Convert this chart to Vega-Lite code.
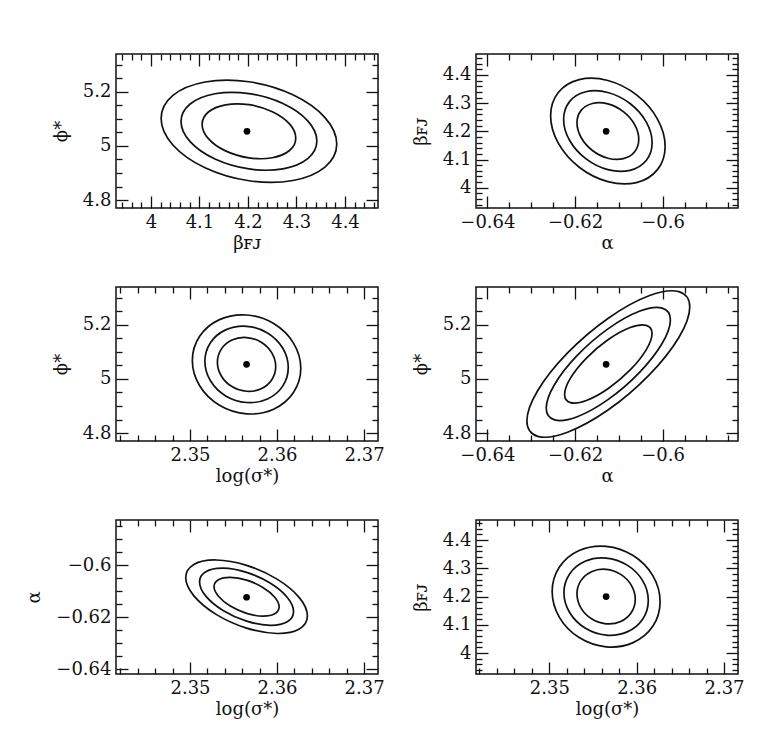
{
  "$schema": "https://vega.github.io/schema/vega-lite/v6.json",
  "background": "white",
  "padding": {"left": 25, "top": 48, "right": 0, "bottom": 0},
  "columns": 2,
  "bounds": "flush",
  "spacing": {"row": 79, "column": 98},
  "datasets": {
    "centers": [
      {"panel": 1, "x": 4.198, "y": 5.054},
      {"panel": 2, "x": -0.6129, "y": 4.2},
      {"panel": 3, "x": 2.3565, "y": 5.054},
      {"panel": 4, "x": -0.6129, "y": 5.054},
      {"panel": 5, "x": 2.3565, "y": -0.6123},
      {"panel": 6, "x": 2.3565, "y": 4.2}
    ],
    "contours": [
      {"panel":1,"level":1,"k":0,"x":4.2985,"y":5.0287},{"panel":1,"level":1,"k":1,"x":4.2856,"y":4.983},{"panel":1,"level":1,"k":2,"x":4.2503,"y":4.9564},{"panel":1,"level":1,"k":3,"x":4.202,"y":4.9559},{"panel":1,"level":1,"k":4,"x":4.1537,"y":4.9817},{"panel":1,"level":1,"k":5,"x":4.1184,"y":5.0269},{"panel":1,"level":1,"k":6,"x":4.1055,"y":5.0793},{"panel":1,"level":1,"k":7,"x":4.1184,"y":5.125},{"panel":1,"level":1,"k":8,"x":4.1537,"y":5.1516},{"panel":1,"level":1,"k":9,"x":4.202,"y":5.1521},{"panel":1,"level":1,"k":10,"x":4.2503,"y":5.1263},{"panel":1,"level":1,"k":11,"x":4.2856,"y":5.0811},
      {"panel":1,"level":2,"k":0,"x":4.342,"y":5.0181},{"panel":1,"level":2,"k":1,"x":4.3232,"y":4.9534},{"panel":1,"level":2,"k":2,"x":4.272,"y":4.9156},{"panel":1,"level":2,"k":3,"x":4.202,"y":4.915},{"panel":1,"level":2,"k":4,"x":4.132,"y":4.9515},{"panel":1,"level":2,"k":5,"x":4.0808,"y":5.0156},{"panel":1,"level":2,"k":6,"x":4.062,"y":5.0899},{"panel":1,"level":2,"k":7,"x":4.0808,"y":5.1546},{"panel":1,"level":2,"k":8,"x":4.132,"y":5.1924},{"panel":1,"level":2,"k":9,"x":4.202,"y":5.193},{"panel":1,"level":2,"k":10,"x":4.272,"y":5.1565},{"panel":1,"level":2,"k":11,"x":4.3232,"y":5.0924},
      {"panel":1,"level":3,"k":0,"x":4.383,"y":5.0068},{"panel":1,"level":3,"k":1,"x":4.3587,"y":4.9219},{"panel":1,"level":3,"k":2,"x":4.2925,"y":4.8723},{"panel":1,"level":3,"k":3,"x":4.202,"y":4.8714},{"panel":1,"level":3,"k":4,"x":4.1115,"y":4.9194},{"panel":1,"level":3,"k":5,"x":4.0453,"y":5.0035},{"panel":1,"level":3,"k":6,"x":4.021,"y":5.1012},{"panel":1,"level":3,"k":7,"x":4.0453,"y":5.1861},{"panel":1,"level":3,"k":8,"x":4.1115,"y":5.2357},{"panel":1,"level":3,"k":9,"x":4.202,"y":5.2366},{"panel":1,"level":3,"k":10,"x":4.2925,"y":5.1886},{"panel":1,"level":3,"k":11,"x":4.3587,"y":5.1045},
      {"panel":2,"level":1,"k":0,"x":-0.60545,"y":4.1718},{"panel":2,"level":1,"k":1,"x":-0.60639,"y":4.1276},{"panel":2,"level":1,"k":2,"x":-0.60897,"y":4.103},{"panel":2,"level":1,"k":3,"x":-0.6125,"y":4.1047},{"panel":2,"level":1,"k":4,"x":-0.61603,"y":4.1322},{"panel":2,"level":1,"k":5,"x":-0.61861,"y":4.1781},{"panel":2,"level":1,"k":6,"x":-0.61955,"y":4.2302},{"panel":2,"level":1,"k":7,"x":-0.61861,"y":4.2744},{"panel":2,"level":1,"k":8,"x":-0.61603,"y":4.299},{"panel":2,"level":1,"k":9,"x":-0.6125,"y":4.2973},{"panel":2,"level":1,"k":10,"x":-0.60897,"y":4.2698},{"panel":2,"level":1,"k":11,"x":-0.60639,"y":4.2239},
      {"panel":2,"level":2,"k":0,"x":-0.6024,"y":4.1595},{"panel":2,"level":2,"k":1,"x":-0.60375,"y":4.0965},{"panel":2,"level":2,"k":2,"x":-0.60745,"y":4.0616},{"panel":2,"level":2,"k":3,"x":-0.6125,"y":4.064},{"panel":2,"level":2,"k":4,"x":-0.61755,"y":4.1031},{"panel":2,"level":2,"k":5,"x":-0.62125,"y":4.1684},{"panel":2,"level":2,"k":6,"x":-0.6226,"y":4.2425},{"panel":2,"level":2,"k":7,"x":-0.62125,"y":4.3055},{"panel":2,"level":2,"k":8,"x":-0.61755,"y":4.3404},{"panel":2,"level":2,"k":9,"x":-0.6125,"y":4.338},{"panel":2,"level":2,"k":10,"x":-0.60745,"y":4.2989},{"panel":2,"level":2,"k":11,"x":-0.60375,"y":4.2336},
      {"panel":2,"level":3,"k":0,"x":-0.59943,"y":4.1466},{"panel":2,"level":3,"k":1,"x":-0.60118,"y":4.0641},{"panel":2,"level":3,"k":2,"x":-0.60596,"y":4.0183},{"panel":2,"level":3,"k":3,"x":-0.6125,"y":4.0215},{"panel":2,"level":3,"k":4,"x":-0.61904,"y":4.0727},{"panel":2,"level":3,"k":5,"x":-0.62382,"y":4.1583},{"panel":2,"level":3,"k":6,"x":-0.62557,"y":4.2554},{"panel":2,"level":3,"k":7,"x":-0.62382,"y":4.3379},{"panel":2,"level":3,"k":8,"x":-0.61904,"y":4.3837},{"panel":2,"level":3,"k":9,"x":-0.6125,"y":4.3805},{"panel":2,"level":3,"k":10,"x":-0.60596,"y":4.3293},{"panel":2,"level":3,"k":11,"x":-0.60118,"y":4.2437},
      {"panel":3,"level":1,"k":0,"x":2.35985,"y":5.0455},{"panel":3,"level":1,"k":1,"x":2.3594,"y":4.9971},{"panel":3,"level":1,"k":2,"x":2.35818,"y":4.9637},{"panel":3,"level":1,"k":3,"x":2.3565,"y":4.9544},{"panel":3,"level":1,"k":4,"x":2.35482,"y":4.9717},{"panel":3,"level":1,"k":5,"x":2.3536,"y":5.0108},{"panel":3,"level":1,"k":6,"x":2.35315,"y":5.0615},{"panel":3,"level":1,"k":7,"x":2.3536,"y":5.1099},{"panel":3,"level":1,"k":8,"x":2.35482,"y":5.1433},{"panel":3,"level":1,"k":9,"x":2.3565,"y":5.1526},{"panel":3,"level":1,"k":10,"x":2.35818,"y":5.1353},{"panel":3,"level":1,"k":11,"x":2.3594,"y":5.0962},
      {"panel":3,"level":2,"k":0,"x":2.36129,"y":5.0422},{"panel":3,"level":2,"k":1,"x":2.36065,"y":4.9734},{"panel":3,"level":2,"k":2,"x":2.3589,"y":4.9261},{"panel":3,"level":2,"k":3,"x":2.3565,"y":4.9129},{"panel":3,"level":2,"k":4,"x":2.3541,"y":4.9373},{"panel":3,"level":2,"k":5,"x":2.35235,"y":4.993},{"panel":3,"level":2,"k":6,"x":2.35171,"y":5.0648},{"panel":3,"level":2,"k":7,"x":2.35235,"y":5.1336},{"panel":3,"level":2,"k":8,"x":2.3541,"y":5.1809},{"panel":3,"level":2,"k":9,"x":2.3565,"y":5.1941},{"panel":3,"level":2,"k":10,"x":2.3589,"y":5.1697},{"panel":3,"level":2,"k":11,"x":2.36065,"y":5.114},
      {"panel":3,"level":3,"k":0,"x":2.36273,"y":5.0389},{"panel":3,"level":3,"k":1,"x":2.36189,"y":4.9497},{"panel":3,"level":3,"k":2,"x":2.35961,"y":4.8883},{"panel":3,"level":3,"k":3,"x":2.3565,"y":4.8712},{"panel":3,"level":3,"k":4,"x":2.35339,"y":4.9029},{"panel":3,"level":3,"k":5,"x":2.35111,"y":4.975},{"panel":3,"level":3,"k":6,"x":2.35027,"y":5.0681},{"panel":3,"level":3,"k":7,"x":2.35111,"y":5.1573},{"panel":3,"level":3,"k":8,"x":2.35339,"y":5.2187},{"panel":3,"level":3,"k":9,"x":2.3565,"y":5.2358},{"panel":3,"level":3,"k":10,"x":2.35961,"y":5.2041},{"panel":3,"level":3,"k":11,"x":2.36189,"y":5.132},
      {"panel":4,"level":1,"k":0,"x":-0.60242,"y":5.1675},{"panel":4,"level":1,"k":1,"x":-0.60376,"y":5.1073},{"panel":4,"level":1,"k":2,"x":-0.60741,"y":5.0331},{"panel":4,"level":1,"k":3,"x":-0.6124,"y":4.9648},{"panel":4,"level":1,"k":4,"x":-0.61739,"y":4.9206},{"panel":4,"level":1,"k":5,"x":-0.62104,"y":4.9125},{"panel":4,"level":1,"k":6,"x":-0.62238,"y":4.9425},{"panel":4,"level":1,"k":7,"x":-0.62104,"y":5.0027},{"panel":4,"level":1,"k":8,"x":-0.61739,"y":5.0769},{"panel":4,"level":1,"k":9,"x":-0.6124,"y":5.1452},{"panel":4,"level":1,"k":10,"x":-0.60741,"y":5.1894},{"panel":4,"level":1,"k":11,"x":-0.60376,"y":5.1975},
      {"panel":4,"level":2,"k":0,"x":-0.59823,"y":5.2177},{"panel":4,"level":2,"k":1,"x":-0.60013,"y":5.1306},{"panel":4,"level":2,"k":2,"x":-0.60532,"y":5.0233},{"panel":4,"level":2,"k":3,"x":-0.6124,"y":4.9245},{"panel":4,"level":2,"k":4,"x":-0.61949,"y":4.8606},{"panel":4,"level":2,"k":5,"x":-0.62467,"y":4.8488},{"panel":4,"level":2,"k":6,"x":-0.62657,"y":4.8923},{"panel":4,"level":2,"k":7,"x":-0.62467,"y":4.9794},{"panel":4,"level":2,"k":8,"x":-0.61949,"y":5.0867},{"panel":4,"level":2,"k":9,"x":-0.6124,"y":5.1855},{"panel":4,"level":2,"k":10,"x":-0.60532,"y":5.2494},{"panel":4,"level":2,"k":11,"x":-0.60013,"y":5.2612},
      {"panel":4,"level":3,"k":0,"x":-0.59381,"y":5.2656},{"panel":4,"level":3,"k":1,"x":-0.5963,"y":5.1529},{"panel":4,"level":3,"k":2,"x":-0.60311,"y":5.014},{"panel":4,"level":3,"k":3,"x":-0.6124,"y":4.886},{"panel":4,"level":3,"k":4,"x":-0.6217,"y":4.8034},{"panel":4,"level":3,"k":5,"x":-0.6285,"y":4.7881},{"panel":4,"level":3,"k":6,"x":-0.63099,"y":4.8444},{"panel":4,"level":3,"k":7,"x":-0.6285,"y":4.9571},{"panel":4,"level":3,"k":8,"x":-0.6217,"y":5.096},{"panel":4,"level":3,"k":9,"x":-0.6124,"y":5.224},{"panel":4,"level":3,"k":10,"x":-0.60311,"y":5.3066},{"panel":4,"level":3,"k":11,"x":-0.5963,"y":5.3219},
      {"panel":5,"level":1,"k":0,"x":2.36024,"y":-0.61599},{"panel":5,"level":1,"k":1,"x":2.35974,"y":-0.61867},{"panel":5,"level":1,"k":2,"x":2.35837,"y":-0.61958},{"panel":5,"level":1,"k":3,"x":2.3565,"y":-0.61849},{"panel":5,"level":1,"k":4,"x":2.35463,"y":-0.61569},{"panel":5,"level":1,"k":5,"x":2.35327,"y":-0.61193},{"panel":5,"level":1,"k":6,"x":2.35276,"y":-0.60821},{"panel":5,"level":1,"k":7,"x":2.35327,"y":-0.60553},{"panel":5,"level":1,"k":8,"x":2.35463,"y":-0.60462},{"panel":5,"level":1,"k":9,"x":2.3565,"y":-0.60571},{"panel":5,"level":1,"k":10,"x":2.35837,"y":-0.60851},{"panel":5,"level":1,"k":11,"x":2.35974,"y":-0.61227},
      {"panel":5,"level":2,"k":0,"x":2.3619,"y":-0.6178},{"panel":5,"level":2,"k":1,"x":2.36118,"y":-0.62173},{"panel":5,"level":2,"k":2,"x":2.3592,"y":-0.62307},{"panel":5,"level":2,"k":3,"x":2.3565,"y":-0.62147},{"panel":5,"level":2,"k":4,"x":2.3538,"y":-0.61736},{"panel":5,"level":2,"k":5,"x":2.35182,"y":-0.61185},{"panel":5,"level":2,"k":6,"x":2.3511,"y":-0.6064},{"panel":5,"level":2,"k":7,"x":2.35182,"y":-0.60248},{"panel":5,"level":2,"k":8,"x":2.3538,"y":-0.60113},{"panel":5,"level":2,"k":9,"x":2.3565,"y":-0.60273},{"panel":5,"level":2,"k":10,"x":2.3592,"y":-0.60684},{"panel":5,"level":2,"k":11,"x":2.36118,"y":-0.61236},
      {"panel":5,"level":3,"k":0,"x":2.36349,"y":-0.61945},{"panel":5,"level":3,"k":1,"x":2.36256,"y":-0.6245},{"panel":5,"level":3,"k":2,"x":2.36,"y":-0.62623},{"panel":5,"level":3,"k":3,"x":2.3565,"y":-0.62417},{"panel":5,"level":3,"k":4,"x":2.353,"y":-0.61888},{"panel":5,"level":3,"k":5,"x":2.35045,"y":-0.61177},{"panel":5,"level":3,"k":6,"x":2.34951,"y":-0.60475},{"panel":5,"level":3,"k":7,"x":2.35045,"y":-0.5997},{"panel":5,"level":3,"k":8,"x":2.353,"y":-0.59797},{"panel":5,"level":3,"k":9,"x":2.3565,"y":-0.60003},{"panel":5,"level":3,"k":10,"x":2.36,"y":-0.60532},{"panel":5,"level":3,"k":11,"x":2.36256,"y":-0.61243},
      {"panel":6,"level":1,"k":0,"x":2.35984,"y":4.1903},{"panel":6,"level":1,"k":1,"x":2.35939,"y":4.1435},{"panel":6,"level":1,"k":2,"x":2.35817,"y":4.1118},{"panel":6,"level":1,"k":3,"x":2.3565,"y":4.1037},{"panel":6,"level":1,"k":4,"x":2.35483,"y":4.1215},{"panel":6,"level":1,"k":5,"x":2.35361,"y":4.1602},{"panel":6,"level":1,"k":6,"x":2.35316,"y":4.2097},{"panel":6,"level":1,"k":7,"x":2.35361,"y":4.2565},{"panel":6,"level":1,"k":8,"x":2.35483,"y":4.2882},{"panel":6,"level":1,"k":9,"x":2.3565,"y":4.2963},{"panel":6,"level":1,"k":10,"x":2.35817,"y":4.2785},{"panel":6,"level":1,"k":11,"x":2.35939,"y":4.2398},
      {"panel":6,"level":2,"k":0,"x":2.36133,"y":4.1863},{"panel":6,"level":2,"k":1,"x":2.36068,"y":4.1199},{"panel":6,"level":2,"k":2,"x":2.35891,"y":4.075},{"panel":6,"level":2,"k":3,"x":2.3565,"y":4.0636},{"panel":6,"level":2,"k":4,"x":2.35409,"y":4.0887},{"panel":6,"level":2,"k":5,"x":2.35232,"y":4.1437},{"panel":6,"level":2,"k":6,"x":2.35167,"y":4.2137},{"panel":6,"level":2,"k":7,"x":2.35232,"y":4.2801},{"panel":6,"level":2,"k":8,"x":2.35409,"y":4.325},{"panel":6,"level":2,"k":9,"x":2.3565,"y":4.3364},{"panel":6,"level":2,"k":10,"x":2.35891,"y":4.3113},{"panel":6,"level":2,"k":11,"x":2.36068,"y":4.2563},
      {"panel":6,"level":3,"k":0,"x":2.36268,"y":4.1821},{"panel":6,"level":3,"k":1,"x":2.36186,"y":4.0956},{"panel":6,"level":3,"k":2,"x":2.35959,"y":4.0371},{"panel":6,"level":3,"k":3,"x":2.3565,"y":4.0222},{"panel":6,"level":3,"k":4,"x":2.35341,"y":4.0549},{"panel":6,"level":3,"k":5,"x":2.35115,"y":4.1266},{"panel":6,"level":3,"k":6,"x":2.35032,"y":4.2179},{"panel":6,"level":3,"k":7,"x":2.35115,"y":4.3044},{"panel":6,"level":3,"k":8,"x":2.35341,"y":4.3629},{"panel":6,"level":3,"k":9,"x":2.3565,"y":4.3778},{"panel":6,"level":3,"k":10,"x":2.35959,"y":4.3451},{"panel":6,"level":3,"k":11,"x":2.36186,"y":4.2734}
    ]
  },
  "concat": [
    {
      "width": 262, "height": 154,
      "layer": [
        {
          "data": {"name": "contours"},
          "transform": [{"filter": "datum.panel == 1"}],
          "mark": {"type": "line", "interpolate": "cardinal-closed", "stroke": "#111", "strokeWidth": 1.7},
          "encoding": {
            "x": {"field": "x", "type": "quantitative", "scale": {"domain": [3.928, 4.468], "nice": false, "zero": false},
              "axis": {"orient": "bottom", "title": "βꜰᴊ", "values": [3.94,3.96,3.98,4,4.02,4.04,4.06,4.08,4.1,4.12,4.14,4.16,4.18,4.2,4.22,4.24,4.26,4.28,4.3,4.32,4.34,4.36,4.38,4.4,4.42,4.44,4.46],
                "labelExpr": "abs(datum.value*10-round(datum.value*10))<0.001 ? format(datum.value,'~g') : ''",
                "tickSize": {"condition": {"test": "abs(datum.value*10-round(datum.value*10))<0.001", "value": -12}, "value": -6}}},
            "y": {"field": "y", "type": "quantitative", "scale": {"domain": [4.771, 5.339], "nice": false, "zero": false},
              "axis": {"orient": "left", "title": "ϕ*", "values": [4.8,4.85,4.9,4.95,5,5.05,5.1,5.15,5.2,5.25,5.3],
                "labelExpr": "abs(datum.value*5-round(datum.value*5))<0.001 ? format(datum.value,'~g') : ''",
                "tickSize": {"condition": {"test": "abs(datum.value*5-round(datum.value*5))<0.001", "value": -12}, "value": -6}}},
            "detail": {"field": "level", "type": "nominal"},
            "order": {"field": "k", "type": "quantitative"}
          }
        },
        {
          "data": {"name": "centers"},
          "transform": [{"filter": "datum.panel == 1"}],
          "mark": {"type": "circle", "size": 45, "color": "#000", "opacity": 1},
          "encoding": {
            "x": {"field": "x", "type": "quantitative", "scale": {"domain": [3.928, 4.468], "nice": false, "zero": false},
              "axis": {"orient": "top", "title": null, "labels": false, "values": [3.94,3.96,3.98,4,4.02,4.04,4.06,4.08,4.1,4.12,4.14,4.16,4.18,4.2,4.22,4.24,4.26,4.28,4.3,4.32,4.34,4.36,4.38,4.4,4.42,4.44,4.46],
                "tickSize": {"condition": {"test": "abs(datum.value*10-round(datum.value*10))<0.001", "value": -12}, "value": -6}}},
            "y": {"field": "y", "type": "quantitative", "scale": {"domain": [4.771, 5.339], "nice": false, "zero": false},
              "axis": {"orient": "right", "title": null, "labels": false, "values": [4.8,4.85,4.9,4.95,5,5.05,5.1,5.15,5.2,5.25,5.3],
                "tickSize": {"condition": {"test": "abs(datum.value*5-round(datum.value*5))<0.001", "value": -12}, "value": -6}}}
          }
        }
      ],
      "resolve": {"axis": {"x": "independent", "y": "independent"}}
    },
    {
      "width": 262, "height": 154,
      "layer": [
        {
          "data": {"name": "contours"},
          "transform": [{"filter": "datum.panel == 2"}],
          "mark": {"type": "line", "interpolate": "cardinal-closed", "stroke": "#111", "strokeWidth": 1.7},
          "encoding": {
            "x": {"field": "x", "type": "quantitative", "scale": {"domain": [-0.6426, -0.5828], "nice": false, "zero": false},
              "axis": {"orient": "bottom", "title": "α", "values": [-0.64,-0.635,-0.63,-0.625,-0.62,-0.615,-0.61,-0.605,-0.6,-0.595,-0.59,-0.585],
                "labelExpr": "abs(datum.value*50-round(datum.value*50))<0.001 ? format(datum.value,'~g') : ''",
                "tickSize": {"condition": {"test": "abs(datum.value*50-round(datum.value*50))<0.001", "value": -12}, "value": -6}}},
            "y": {"field": "y", "type": "quantitative", "scale": {"domain": [3.928, 4.4745], "nice": false, "zero": false},
              "axis": {"orient": "left", "title": "βꜰᴊ", "values": [3.94,3.96,3.98,4,4.02,4.04,4.06,4.08,4.1,4.12,4.14,4.16,4.18,4.2,4.22,4.24,4.26,4.28,4.3,4.32,4.34,4.36,4.38,4.4,4.42,4.44,4.46],
                "labelExpr": "abs(datum.value*10-round(datum.value*10))<0.001 ? format(datum.value,'~g') : ''",
                "tickSize": {"condition": {"test": "abs(datum.value*10-round(datum.value*10))<0.001", "value": -12}, "value": -6}}},
            "detail": {"field": "level", "type": "nominal"},
            "order": {"field": "k", "type": "quantitative"}
          }
        },
        {
          "data": {"name": "centers"},
          "transform": [{"filter": "datum.panel == 2"}],
          "mark": {"type": "circle", "size": 45, "color": "#000", "opacity": 1},
          "encoding": {
            "x": {"field": "x", "type": "quantitative", "scale": {"domain": [-0.6426, -0.5828], "nice": false, "zero": false},
              "axis": {"orient": "top", "title": null, "labels": false, "values": [-0.64,-0.635,-0.63,-0.625,-0.62,-0.615,-0.61,-0.605,-0.6,-0.595,-0.59,-0.585],
                "tickSize": {"condition": {"test": "abs(datum.value*50-round(datum.value*50))<0.001", "value": -12}, "value": -6}}},
            "y": {"field": "y", "type": "quantitative", "scale": {"domain": [3.928, 4.4745], "nice": false, "zero": false},
              "axis": {"orient": "right", "title": null, "labels": false, "values": [3.94,3.96,3.98,4,4.02,4.04,4.06,4.08,4.1,4.12,4.14,4.16,4.18,4.2,4.22,4.24,4.26,4.28,4.3,4.32,4.34,4.36,4.38,4.4,4.42,4.44,4.46],
                "tickSize": {"condition": {"test": "abs(datum.value*10-round(datum.value*10))<0.001", "value": -12}, "value": -6}}}
          }
        }
      ],
      "resolve": {"axis": {"x": "independent", "y": "independent"}}
    },
    {
      "width": 262, "height": 154,
      "layer": [
        {
          "data": {"name": "contours"},
          "transform": [{"filter": "datum.panel == 3"}],
          "mark": {"type": "line", "interpolate": "cardinal-closed", "stroke": "#111", "strokeWidth": 1.7},
          "encoding": {
            "x": {"field": "x", "type": "quantitative", "scale": {"domain": [2.3415, 2.3716], "nice": false, "zero": false},
              "axis": {"orient": "bottom", "title": "log(σ*)", "values": [2.342,2.344,2.346,2.348,2.35,2.352,2.354,2.356,2.358,2.36,2.362,2.364,2.366,2.368,2.37],
                "labelExpr": "abs(datum.value*100-round(datum.value*100))<0.001 ? format(datum.value,'~g') : ''",
                "tickSize": {"condition": {"test": "abs(datum.value*100-round(datum.value*100))<0.001", "value": -12}, "value": -6}}},
            "y": {"field": "y", "type": "quantitative", "scale": {"domain": [4.771, 5.339], "nice": false, "zero": false},
              "axis": {"orient": "left", "title": "ϕ*", "values": [4.8,4.85,4.9,4.95,5,5.05,5.1,5.15,5.2,5.25,5.3],
                "labelExpr": "abs(datum.value*5-round(datum.value*5))<0.001 ? format(datum.value,'~g') : ''",
                "tickSize": {"condition": {"test": "abs(datum.value*5-round(datum.value*5))<0.001", "value": -12}, "value": -6}}},
            "detail": {"field": "level", "type": "nominal"},
            "order": {"field": "k", "type": "quantitative"}
          }
        },
        {
          "data": {"name": "centers"},
          "transform": [{"filter": "datum.panel == 3"}],
          "mark": {"type": "circle", "size": 45, "color": "#000", "opacity": 1},
          "encoding": {
            "x": {"field": "x", "type": "quantitative", "scale": {"domain": [2.3415, 2.3716], "nice": false, "zero": false},
              "axis": {"orient": "top", "title": null, "labels": false, "values": [2.342,2.344,2.346,2.348,2.35,2.352,2.354,2.356,2.358,2.36,2.362,2.364,2.366,2.368,2.37],
                "tickSize": {"condition": {"test": "abs(datum.value*100-round(datum.value*100))<0.001", "value": -12}, "value": -6}}},
            "y": {"field": "y", "type": "quantitative", "scale": {"domain": [4.771, 5.339], "nice": false, "zero": false},
              "axis": {"orient": "right", "title": null, "labels": false, "values": [4.8,4.85,4.9,4.95,5,5.05,5.1,5.15,5.2,5.25,5.3],
                "tickSize": {"condition": {"test": "abs(datum.value*5-round(datum.value*5))<0.001", "value": -12}, "value": -6}}}
          }
        }
      ],
      "resolve": {"axis": {"x": "independent", "y": "independent"}}
    },
    {
      "width": 262, "height": 154,
      "layer": [
        {
          "data": {"name": "contours"},
          "transform": [{"filter": "datum.panel == 4"}],
          "mark": {"type": "line", "interpolate": "cardinal-closed", "stroke": "#111", "strokeWidth": 1.7},
          "encoding": {
            "x": {"field": "x", "type": "quantitative", "scale": {"domain": [-0.6426, -0.5828], "nice": false, "zero": false},
              "axis": {"orient": "bottom", "title": "α", "values": [-0.64,-0.635,-0.63,-0.625,-0.62,-0.615,-0.61,-0.605,-0.6,-0.595,-0.59,-0.585],
                "labelExpr": "abs(datum.value*50-round(datum.value*50))<0.001 ? format(datum.value,'~g') : ''",
                "tickSize": {"condition": {"test": "abs(datum.value*50-round(datum.value*50))<0.001", "value": -12}, "value": -6}}},
            "y": {"field": "y", "type": "quantitative", "scale": {"domain": [4.771, 5.339], "nice": false, "zero": false},
              "axis": {"orient": "left", "title": "ϕ*", "values": [4.8,4.85,4.9,4.95,5,5.05,5.1,5.15,5.2,5.25,5.3],
                "labelExpr": "abs(datum.value*5-round(datum.value*5))<0.001 ? format(datum.value,'~g') : ''",
                "tickSize": {"condition": {"test": "abs(datum.value*5-round(datum.value*5))<0.001", "value": -12}, "value": -6}}},
            "detail": {"field": "level", "type": "nominal"},
            "order": {"field": "k", "type": "quantitative"}
          }
        },
        {
          "data": {"name": "centers"},
          "transform": [{"filter": "datum.panel == 4"}],
          "mark": {"type": "circle", "size": 45, "color": "#000", "opacity": 1},
          "encoding": {
            "x": {"field": "x", "type": "quantitative", "scale": {"domain": [-0.6426, -0.5828], "nice": false, "zero": false},
              "axis": {"orient": "top", "title": null, "labels": false, "values": [-0.64,-0.635,-0.63,-0.625,-0.62,-0.615,-0.61,-0.605,-0.6,-0.595,-0.59,-0.585],
                "tickSize": {"condition": {"test": "abs(datum.value*50-round(datum.value*50))<0.001", "value": -12}, "value": -6}}},
            "y": {"field": "y", "type": "quantitative", "scale": {"domain": [4.771, 5.339], "nice": false, "zero": false},
              "axis": {"orient": "right", "title": null, "labels": false, "values": [4.8,4.85,4.9,4.95,5,5.05,5.1,5.15,5.2,5.25,5.3],
                "tickSize": {"condition": {"test": "abs(datum.value*5-round(datum.value*5))<0.001", "value": -12}, "value": -6}}}
          }
        }
      ],
      "resolve": {"axis": {"x": "independent", "y": "independent"}}
    },
    {
      "width": 262, "height": 154,
      "layer": [
        {
          "data": {"name": "contours"},
          "transform": [{"filter": "datum.panel == 5"}],
          "mark": {"type": "line", "interpolate": "cardinal-closed", "stroke": "#111", "strokeWidth": 1.7},
          "encoding": {
            "x": {"field": "x", "type": "quantitative", "scale": {"domain": [2.3415, 2.3716], "nice": false, "zero": false},
              "axis": {"orient": "bottom", "title": "log(σ*)", "values": [2.342,2.344,2.346,2.348,2.35,2.352,2.354,2.356,2.358,2.36,2.362,2.364,2.366,2.368,2.37],
                "labelExpr": "abs(datum.value*100-round(datum.value*100))<0.001 ? format(datum.value,'~g') : ''",
                "tickSize": {"condition": {"test": "abs(datum.value*100-round(datum.value*100))<0.001", "value": -12}, "value": -6}}},
            "y": {"field": "y", "type": "quantitative", "scale": {"domain": [-0.6418, -0.5826], "nice": false, "zero": false},
              "axis": {"orient": "left", "title": "α", "values": [-0.64,-0.635,-0.63,-0.625,-0.62,-0.615,-0.61,-0.605,-0.6,-0.595,-0.59,-0.585],
                "labelExpr": "abs(datum.value*50-round(datum.value*50))<0.001 ? format(datum.value,'~g') : ''",
                "tickSize": {"condition": {"test": "abs(datum.value*50-round(datum.value*50))<0.001", "value": -12}, "value": -6}}},
            "detail": {"field": "level", "type": "nominal"},
            "order": {"field": "k", "type": "quantitative"}
          }
        },
        {
          "data": {"name": "centers"},
          "transform": [{"filter": "datum.panel == 5"}],
          "mark": {"type": "circle", "size": 45, "color": "#000", "opacity": 1},
          "encoding": {
            "x": {"field": "x", "type": "quantitative", "scale": {"domain": [2.3415, 2.3716], "nice": false, "zero": false},
              "axis": {"orient": "top", "title": null, "labels": false, "values": [2.342,2.344,2.346,2.348,2.35,2.352,2.354,2.356,2.358,2.36,2.362,2.364,2.366,2.368,2.37],
                "tickSize": {"condition": {"test": "abs(datum.value*100-round(datum.value*100))<0.001", "value": -12}, "value": -6}}},
            "y": {"field": "y", "type": "quantitative", "scale": {"domain": [-0.6418, -0.5826], "nice": false, "zero": false},
              "axis": {"orient": "right", "title": null, "labels": false, "values": [-0.64,-0.635,-0.63,-0.625,-0.62,-0.615,-0.61,-0.605,-0.6,-0.595,-0.59,-0.585],
                "tickSize": {"condition": {"test": "abs(datum.value*50-round(datum.value*50))<0.001", "value": -12}, "value": -6}}}
          }
        }
      ],
      "resolve": {"axis": {"x": "independent", "y": "independent"}}
    },
    {
      "width": 262, "height": 154,
      "layer": [
        {
          "data": {"name": "contours"},
          "transform": [{"filter": "datum.panel == 6"}],
          "mark": {"type": "line", "interpolate": "cardinal-closed", "stroke": "#111", "strokeWidth": 1.7},
          "encoding": {
            "x": {"field": "x", "type": "quantitative", "scale": {"domain": [2.3416, 2.3716], "nice": false, "zero": false},
              "axis": {"orient": "bottom", "title": "log(σ*)", "values": [2.342,2.344,2.346,2.348,2.35,2.352,2.354,2.356,2.358,2.36,2.362,2.364,2.366,2.368,2.37],
                "labelExpr": "abs(datum.value*100-round(datum.value*100))<0.001 ? format(datum.value,'~g') : ''",
                "tickSize": {"condition": {"test": "abs(datum.value*100-round(datum.value*100))<0.001", "value": -12}, "value": -6}}},
            "y": {"field": "y", "type": "quantitative", "scale": {"domain": [3.926, 4.471], "nice": false, "zero": false},
              "axis": {"orient": "left", "title": "βꜰᴊ", "values": [3.94,3.96,3.98,4,4.02,4.04,4.06,4.08,4.1,4.12,4.14,4.16,4.18,4.2,4.22,4.24,4.26,4.28,4.3,4.32,4.34,4.36,4.38,4.4,4.42,4.44,4.46],
                "labelExpr": "abs(datum.value*10-round(datum.value*10))<0.001 ? format(datum.value,'~g') : ''",
                "tickSize": {"condition": {"test": "abs(datum.value*10-round(datum.value*10))<0.001", "value": -12}, "value": -6}}},
            "detail": {"field": "level", "type": "nominal"},
            "order": {"field": "k", "type": "quantitative"}
          }
        },
        {
          "data": {"name": "centers"},
          "transform": [{"filter": "datum.panel == 6"}],
          "mark": {"type": "circle", "size": 45, "color": "#000", "opacity": 1},
          "encoding": {
            "x": {"field": "x", "type": "quantitative", "scale": {"domain": [2.3416, 2.3716], "nice": false, "zero": false},
              "axis": {"orient": "top", "title": null, "labels": false, "values": [2.342,2.344,2.346,2.348,2.35,2.352,2.354,2.356,2.358,2.36,2.362,2.364,2.366,2.368,2.37],
                "tickSize": {"condition": {"test": "abs(datum.value*100-round(datum.value*100))<0.001", "value": -12}, "value": -6}}},
            "y": {"field": "y", "type": "quantitative", "scale": {"domain": [3.926, 4.471], "nice": false, "zero": false},
              "axis": {"orient": "right", "title": null, "labels": false, "values": [3.94,3.96,3.98,4,4.02,4.04,4.06,4.08,4.1,4.12,4.14,4.16,4.18,4.2,4.22,4.24,4.26,4.28,4.3,4.32,4.34,4.36,4.38,4.4,4.42,4.44,4.46],
                "tickSize": {"condition": {"test": "abs(datum.value*10-round(datum.value*10))<0.001", "value": -12}, "value": -6}}}
          }
        }
      ],
      "resolve": {"axis": {"x": "independent", "y": "independent"}}
    }
  ],
  "config": {
    "view": {"stroke": "#111", "strokeWidth": 1.5},
    "axis": {
      "domain": false, "grid": false,
      "labelFont": "DejaVu Serif", "labelFontSize": 18, "labelColor": "#111",
      "labelPadding": 17, "labelOverlap": false, "labelFlush": false, "labelBound": false,
      "tickColor": "#111", "tickWidth": 1.3,
      "titleFont": "DejaVu Serif", "titleFontSize": 18, "titleFontWeight": "normal", "titleColor": "#111"
    },
    "axisX": {"titlePadding": -3},
    "axisY": {"titlePadding": 12}
  }
}
